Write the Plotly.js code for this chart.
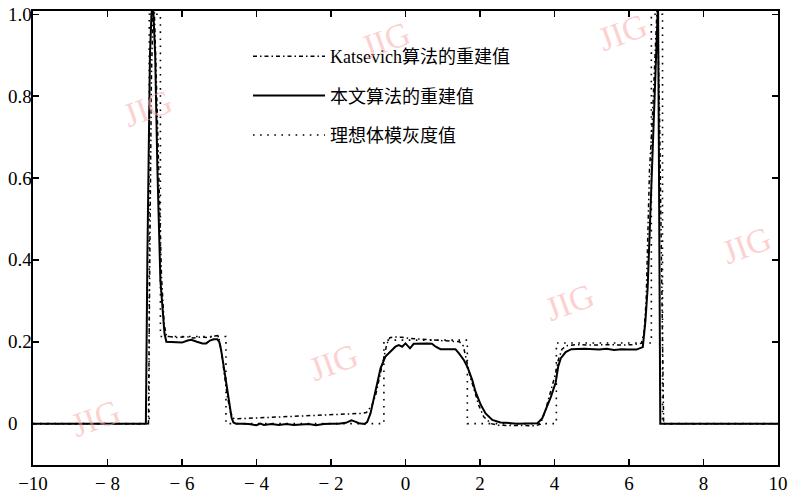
<!DOCTYPE html>
<html>
<head>
<meta charset="utf-8">
<script src="https://cdn.plot.ly/plotly-3.0.1.min.js"></script>
<style>html,body{margin:0;padding:0;background:#fff;}#chart{width:789px;height:497px;}</style>
</head>
<body>
<div id="chart"></div>
<script>
// ---- data ----
var seriesNames = ['Katsevich算法的重建值', '本文算法的重建值', '理想体模灰度值'];

// Katsevich reconstruction (dash-dot)
var katsX = [-10, -6.9, -6.86, -6.82, -6.78, -6.75, -6.7, -6.62, -6.55, -6.48, -6.42, -6.3, -6.1, -5.9, -5.7, -5.5, -5.3, -5.12, -5.04, -5.0, -4.95, -4.87, -4.78, -4.7, -4.62, -4.5, -4.0, -3.5, -3.0, -2.5, -2.0, -1.5, -1.2, -1.05, -0.9, -0.8, -0.7, -0.6, -0.5, -0.42, -0.3, -0.1, 0.1, 0.3, 0.5, 0.7, 0.9, 1.1, 1.3, 1.45, 1.55, 1.64, 1.75, 1.88, 1.96, 2.1, 2.3, 2.5, 3.0, 3.5, 3.62, 3.75, 3.9, 4.02, 4.1, 4.2, 4.35, 4.6, 5.0, 5.4, 5.8, 6.1, 6.33, 6.4, 6.46, 6.5, 6.55, 6.62, 6.68, 6.72, 6.76, 6.82, 6.87, 6.9, 6.93, 10];
var katsY = [0, 0, 0.45, 0.85, 1.0, 1.03, 0.88, 0.6, 0.36, 0.245, 0.215, 0.212, 0.21, 0.213, 0.209, 0.212, 0.21, 0.214, 0.215, 0.205, 0.18, 0.125, 0.065, 0.028, 0.013, 0.012, 0.014, 0.015, 0.017, 0.019, 0.021, 0.023, 0.025, 0.027, 0.045, 0.07, 0.11, 0.15, 0.195, 0.21, 0.212, 0.211, 0.208, 0.207, 0.206, 0.205, 0.204, 0.203, 0.202, 0.2, 0.19, 0.15, 0.11, 0.072, 0.046, 0.017, 0.0, -0.004, -0.005, -0.005, -0.001, 0.03, 0.08, 0.12, 0.155, 0.182, 0.191, 0.193, 0.192, 0.193, 0.192, 0.193, 0.196, 0.22, 0.3, 0.45, 0.62, 0.73, 0.84, 0.95, 1.03, 0.75, 0.35, 0.1, 0, 0];

// proposed method (solid)
var propX = [-10, -6.97, -6.93, -6.9, -6.86, -6.82, -6.78, -6.72, -6.66, -6.58, -6.53, -6.47, -6.42, -6.3, -6.2, -6.0, -5.85, -5.75, -5.6, -5.45, -5.35, -5.25, -5.15, -5.05, -5.0, -4.95, -4.88, -4.8, -4.73, -4.67, -4.62, -4.55, -4.4, -4.2, -4.0, -3.9, -3.8, -3.6, -3.4, -3.2, -3.0, -2.8, -2.6, -2.4, -2.2, -2.0, -1.8, -1.6, -1.45, -1.35, -1.25, -1.1, -1.03, -0.94, -0.81, -0.67, -0.54, -0.4, -0.27, -0.18, -0.09, 0.0, 0.12, 0.22, 0.4, 0.58, 0.71, 0.81, 0.94, 1.21, 1.34, 1.43, 1.57, 1.66, 1.79, 1.88, 2.02, 2.15, 2.33, 2.55, 3.0, 3.54, 3.67, 3.78, 3.9, 4.03, 4.1, 4.17, 4.3, 4.45, 4.8, 5.2, 5.4, 5.6, 5.8, 6.0, 6.2, 6.37, 6.44, 6.5, 6.59, 6.68, 6.74, 6.78, 6.8, 6.82, 6.84, 10];
var propY = [0, 0, 0.4, 0.65, 0.9, 1.0, 1.03, 0.9, 0.62, 0.35, 0.28, 0.22, 0.2, 0.199, 0.2, 0.198, 0.203, 0.205, 0.2, 0.196, 0.196, 0.203, 0.206, 0.206, 0.2, 0.18, 0.14, 0.09, 0.045, 0.015, 0.003, 0.0, 0.0, -0.001, -0.004, 0.0, -0.003, -0.001, -0.003, -0.001, -0.003, -0.002, -0.001, -0.004, -0.001, 0.0, 0.0, 0.002, 0.008, 0.005, 0.001, -0.001, 0.004, 0.025, 0.078, 0.135, 0.164, 0.176, 0.188, 0.192, 0.188, 0.196, 0.184, 0.195, 0.196, 0.196, 0.195, 0.188, 0.182, 0.182, 0.182, 0.172, 0.155, 0.139, 0.107, 0.078, 0.046, 0.025, 0.009, 0.003, 0.0, 0.001, 0.013, 0.038, 0.065, 0.1, 0.14, 0.16, 0.175, 0.182, 0.183, 0.181, 0.183, 0.18, 0.182, 0.181, 0.181, 0.187, 0.25, 0.33, 0.55, 0.75, 0.91, 1.03, 0.7, 0.3, 0, 0];

// ideal phantom (dotted)
var idealX = [-10, -6.88, -6.88, -6.58, -6.58, -4.82, -4.82, -0.58, -0.58, 1.66, 1.66, 4.05, 4.05, 6.6, 6.6, 6.9, 6.9, 10];
var idealY = [0, 0, 1, 1, 0.213, 0.213, 0, 0, 0.204, 0.204, 0, 0, 0.197, 0.197, 1, 1, 0, 0];

var xTickVals = [-10, -8, -6, -4, -2, 0, 2, 4, 6, 8, 10];
var xTickText = ['\u221210', '\u2212 8', '\u2212 6', '\u2212 4', '\u2212 2', '0', '2', '4', '6', '8', '10'];
var yTickVals = [0, 0.2, 0.4, 0.6, 0.8, 1.0];
var yTickText = ['0', '0.2', '0.4', '0.6', '0.8', '1.0'];

var watermarkText = 'JIG';
var watermarkPos = [[95, 418], [147, 108], [333, 362], [385, 40], [569, 302], [622, 32], [746, 245]];

// ---- chart ----
var serif = '"Liberation Serif", "Times New Roman", "Noto Sans CJK SC", serif';
var W = 789, H = 497, mL = 33, mR = 11, mT = 11, mB = 32;
var pw = W - mL - mR, ph = H - mT - mB;

var traces = [
  {x: katsX, y: katsY, name: seriesNames[0], mode: 'lines', legendgroup: 'a',
   line: {color: '#000', width: 1.5, dash: '4px,3px,1.5px,3px'}},
  {x: propX, y: propY, name: seriesNames[1], mode: 'lines', legendgroup: 'b',
   line: {color: '#000', width: 2}},
  {x: idealX, y: idealY, name: seriesNames[2], mode: 'lines', legendgroup: 'c',
   line: {color: '#000', width: 1.6, dash: '1.6px,5.5px'}}
];

var annotations = [];
yTickVals.forEach(function (v, i) {
  annotations.push({xref: 'paper', yref: 'y', x: -27 / pw, y: v, xanchor: 'left', yanchor: 'middle',
    text: yTickText[i], showarrow: false, font: {family: serif, size: 19, color: '#000'}});
});
watermarkPos.forEach(function (p) {
  annotations.push({xref: 'paper', yref: 'paper', x: (p[0] - mL) / pw, y: (H - mB - p[1]) / ph,
    xanchor: 'center', yanchor: 'middle', text: watermarkText, showarrow: false, textangle: -20,
    font: {family: serif, size: 34, color: 'rgba(250,170,170,0.55)'}});
});

var layout = {
  width: W, height: H,
  margin: {l: mL, r: mR, t: mT, b: mB, pad: 0},
  paper_bgcolor: '#fff', plot_bgcolor: '#fff',
  showlegend: true,
  legend: {x: (248 - mL) / pw, y: (H - mB - 38) / ph, xanchor: 'left', yanchor: 'top',
    bgcolor: 'rgba(0,0,0,0)', borderwidth: 0, traceorder: 'grouped', tracegroupgap: 13,
    itemwidth: 72, font: {family: serif, size: 18, color: '#000'}},
  xaxis: {range: [-10, 10], tickvals: xTickVals, ticktext: xTickText, ticks: 'inside', ticklen: 6,
    tickwidth: 1.5, tickcolor: '#000', showline: true, linecolor: '#000', linewidth: 1.8,
    mirror: 'ticks', showgrid: false, zeroline: false,
    tickfont: {family: serif, size: 19, color: '#000'}},
  yaxis: {range: [-0.101, 1.008], tickvals: yTickVals, ticks: 'inside', ticklen: 6,
    tickwidth: 1.5, tickcolor: '#000', showline: true, linecolor: '#000', linewidth: 1.8,
    mirror: 'ticks', showgrid: false, zeroline: false, showticklabels: false},
  annotations: annotations
};

Plotly.newPlot('chart', traces, layout, {staticPlot: true, displayModeBar: false});
</script>
</body>
</html>
